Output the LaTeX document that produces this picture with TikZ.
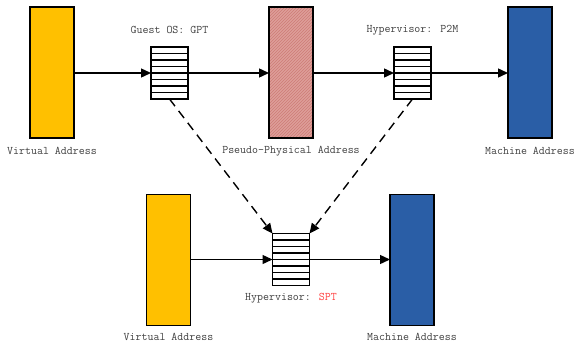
\documentclass[tikz,border=0pt]{standalone}
\usepackage{fontspec}
\usetikzlibrary{arrows.meta,patterns,calc}
\definecolor{vaddr}{HTML}{FFC000}
\definecolor{maddr}{HTML}{2A5EA6}
\definecolor{paddr}{HTML}{DE9E99}
\definecolor{phatch}{HTML}{CD7C76}
\definecolor{lbl}{HTML}{404040}
\definecolor{spt}{HTML}{FF4040}
\tikzset{
  bar/.style={draw=black,line width=1.4pt,minimum width=44pt,minimum height=131pt,inner sep=0pt,outer sep=0pt},
  tbl/.style={draw=black,line width=1.3pt,fill=white,minimum width=37pt,minimum height=52pt,inner sep=0pt,outer sep=0pt},
  lab/.style={text=lbl,font=\ttfamily\fontsize{11.6}{13}\selectfont,inner sep=0pt},
  arr/.style={line width=1.4pt,-{Triangle[length=10pt,width=9pt]}},
  darr/.style={line width=1.4pt,dash pattern=on 9pt off 6pt,-{Triangle[length=10pt,width=9pt]}}
}
\newcommand{\tablerows}[1]{%
  \foreach \k in {1,...,7}{
    \draw[line width=1.1pt] ($(#1.north west)!\k/8!(#1.south west)$) -- ($(#1.north east)!\k/8!(#1.south east)$);
  }}
\begin{document}
\begin{tikzpicture}[x=1pt,y=-1pt]
\useasboundingbox (0,0) rectangle (581,343);
% top row
\node[bar,fill=vaddr] (va1) at (52,72.5) {};
\node[tbl] (gpt) at (169.5,73) {};
\tablerows{gpt}
\node[bar,fill=paddr] (pa) at (291,72.5) {};
\fill[pattern=north east lines,pattern color=phatch] (pa.south west) rectangle (pa.north east);
\draw[line width=1.4pt] (pa.south west) rectangle (pa.north east);
\node[tbl] (p2m) at (412.5,73) {};
\tablerows{p2m}
\node[bar,fill=maddr] (ma1) at (530,72.5) {};
\node[lab] (lva1) at (52,151) {Virtual Address};
\node[lab] (lgpt) at (169.5,30) {Guest OS: GPT};
\node[lab] (lpa) at (291,151) {Pseudo-Physical Address};
\node[lab] (lp2m) at (412.5,30) {Hypervisor: P2M};
\node[lab] (lma1) at (530,151) {Machine Address};
% bottom row
\node[bar,fill=vaddr] (va2) at (168.5,260) {};
\node[tbl] (sptt) at (291,259.5) {};
\tablerows{sptt}
\node[bar,fill=maddr] (ma2) at (412,260) {};
\node[lab] (lspt) at (291,298) {Hypervisor: \textcolor{spt}{SPT}};
\node[lab] (lva2) at (168.5,337) {Virtual Address};
\node[lab] (lma2) at (412,337) {Machine Address};
% arrows
\draw[arr] (va1.east |- 0,73) -- (gpt.west);
\draw[arr] (gpt.east) -- (pa.west |- gpt.east);
\draw[arr] (pa.east |- p2m.west) -- (p2m.west);
\draw[arr] (p2m.east) -- (ma1.west |- p2m.east);
\draw[arr] (va2.east |- sptt.west) -- (sptt.west);
\draw[arr] (sptt.east) -- (ma2.west |- sptt.east);
\draw[darr] (gpt.south) -- (sptt.north west);
\draw[darr] (p2m.south) -- (sptt.north east);
\end{tikzpicture}
\end{document}
